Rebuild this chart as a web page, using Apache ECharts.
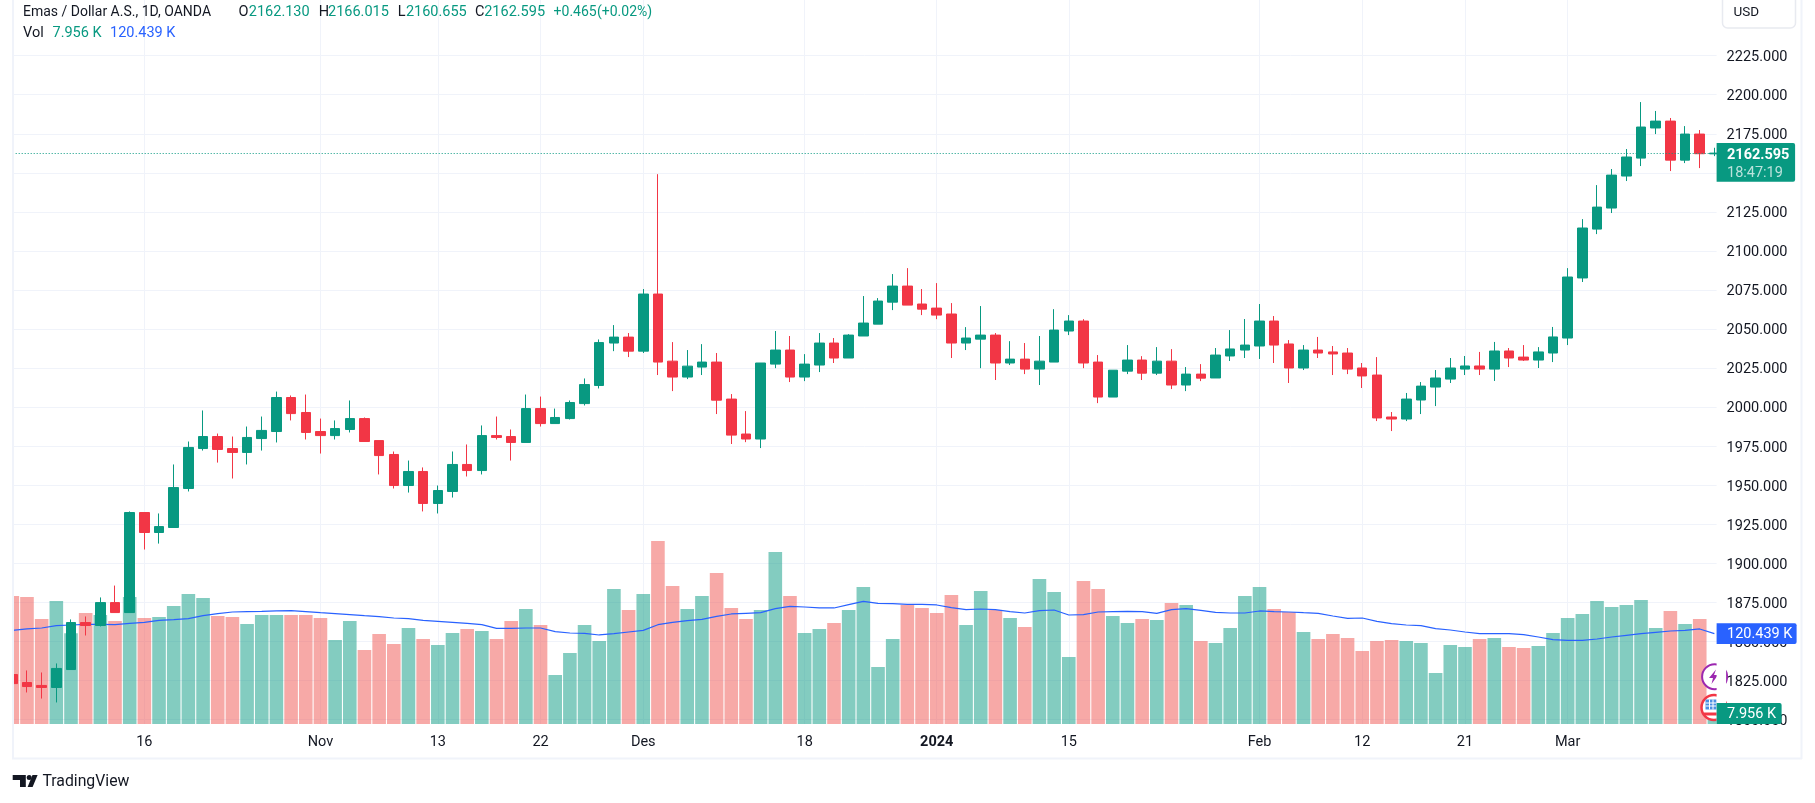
<!DOCTYPE html>
<html>
<head>
<meta charset="utf-8">
<title>Emas / Dollar A.S.</title>
<script src="https://cdn.jsdelivr.net/npm/echarts@6/dist/echarts.min.js"></script>
<style>
html,body{margin:0;padding:0;background:#fff;}
#chart{position:absolute;left:0;top:0;width:1815px;height:803px;}
</style>
</head>
<body>
<div id="chart"></div>
<script>
const opens = [1828.5,1823.4,1821.5,1820.2,1831.7,1861.8,1859.9,1874.6,1868.2,1932.3,1919.5,1922.7,1947.7,1973.3,1981.0,1973.3,1970.8,1979.7,1984.2,2006.0,1996.4,1984.2,1981.6,1985.5,1992.5,1978.4,1969.5,1949.6,1958.6,1938.1,1945.8,1963.1,1959.2,1981.6,1981.0,1977.2,1998.9,1989.3,1992.5,2002.1,2013.7,2040.9,2044.7,2035.7,2072.3,2029.3,2019.1,2025.5,2028.7,2005.0,1982.6,1979.4,2027.4,2036.4,2019.1,2026.8,2040.9,2031.3,2045.4,2053.0,2067.1,2077.4,2065.9,2063.3,2059.5,2040.9,2043.4,2046.0,2028.1,2030.6,2024.2,2028.7,2048.6,2055.0,2028.7,2006.3,2022.9,2030.0,2021.6,2029.3,2014.0,2021.0,2018.5,2032.6,2036.4,2039.0,2055.0,2040.3,2024.9,2036.4,2035.2,2034.5,2024.9,2020.4,1993.5,1992.2,2004.4,2012.7,2017.8,2024.2,2026.2,2024.2,2035.8,2031.9,2030.0,2034.5,2044.1,2082.6,2113.9,2127.4,2147.9,2159.4,2178.7,2183.1,2158.1,2174.8,2162.13];
const closes = [1822.7,1820.8,1820.2,1832.4,1861.8,1859.9,1874.6,1868.2,1932.3,1919.5,1923.3,1948.3,1974.0,1981.0,1972.7,1970.8,1980.4,1984.9,2006.0,1995.7,1983.6,1981.6,1986.1,1992.5,1977.8,1968.8,1949.6,1958.6,1938.1,1946.4,1963.1,1959.2,1981.6,1980.4,1977.2,1998.9,1989.3,1993.2,2002.8,2014.3,2041.2,2044.7,2035.7,2072.3,2028.7,2019.1,2026.1,2028.7,2004.3,1981.9,1979.4,2028.1,2036.4,2019.1,2027.4,2040.9,2031.3,2046.0,2053.7,2067.8,2077.4,2065.2,2062.6,2058.8,2040.9,2044.1,2046.0,2028.1,2030.6,2024.2,2029.3,2049.2,2055.0,2028.1,2006.3,2023.5,2030.0,2021.6,2029.3,2014.0,2021.0,2018.4,2033.2,2037.1,2039.6,2055.0,2039.6,2024.9,2036.4,2034.5,2033.9,2024.2,2019.8,1992.9,1992.2,2005.0,2013.3,2018.5,2024.9,2026.2,2024.2,2035.8,2031.3,2030.0,2035.2,2044.8,2083.2,2114.6,2128.0,2148.5,2160.1,2179.3,2183.1,2158.1,2174.8,2162.2,2162.595];
const lows = [1821.0,1817.0,1813.1,1810.6,1831.7,1853.5,1859.3,1868.2,1868.2,1908.6,1912.4,1922.7,1945.8,1972.0,1964.3,1954.1,1963.1,1972.0,1977.2,1991.3,1979.1,1970.1,1979.1,1983.6,1977.8,1956.7,1947.7,1945.1,1933.0,1931.7,1941.9,1955.4,1956.7,1979.1,1965.6,1977.2,1987.4,1989.3,1991.9,2000.9,2011.8,2035.7,2031.9,2034.5,2020.4,2010.1,2017.8,2020.4,1995.4,1976.2,1977.4,1973.6,2024.8,2015.9,2016.5,2022.3,2028.1,2031.3,2045.4,2053.0,2062.0,2065.2,2058.8,2056.2,2031.3,2036.4,2024.8,2017.2,2026.8,2021.0,2014.0,2028.7,2046.0,2024.8,2002.4,2006.3,2021.0,2017.2,2020.4,2011.4,2010.1,2016.5,2018.5,2029.4,2031.3,2030.7,2028.1,2015.3,2023.6,2031.3,2020.4,2021.0,2012.1,1990.9,1984.5,1990.9,1995.4,2000.5,2015.3,2020.4,2020.4,2016.6,2025.5,2029.4,2024.9,2028.7,2039.6,2080.0,2110.7,2124.2,2144.7,2154.3,2174.8,2151.1,2156.2,2153.0,2160.655];
const highs = [1830.0,1831.1,1829.8,1835.6,1863.8,1865.7,1877.9,1885.5,1933.0,1932.3,1931.7,1963.1,1977.8,1997.7,1982.9,1981.0,1987.4,1993.8,2009.8,2007.3,2007.9,1992.5,1991.3,2004.1,1993.2,1978.4,1971.4,1965.6,1961.2,1949.6,1971.4,1975.9,1988.1,1993.8,1985.5,2007.9,2006.6,1998.9,2004.1,2018.2,2043.2,2052.4,2047.3,2075.5,2149.1,2041.5,2036.4,2040.2,2034.5,2008.2,1997.3,2028.1,2048.6,2045.4,2033.8,2047.3,2044.1,2046.6,2071.0,2069.7,2085.1,2088.9,2075.5,2079.3,2066.5,2051.1,2064.6,2047.3,2042.1,2040.9,2045.4,2062.6,2058.8,2056.2,2033.2,2023.5,2039.6,2032.5,2038.3,2037.0,2025.5,2027.4,2037.7,2049.2,2056.3,2065.9,2058.2,2042.8,2039.6,2044.8,2039.0,2037.7,2028.1,2031.9,1996.7,2008.9,2015.9,2023.6,2031.3,2032.6,2035.2,2041.6,2037.7,2039.6,2038.3,2051.2,2088.9,2120.3,2142.1,2152.4,2165.2,2195.3,2189.6,2185.1,2179.9,2177.4,2166.015];
const volumes = [170.7,169.3,140,164,120.9,148,145.3,137.3,169.3,141.3,142.7,157.3,173.3,168,144,142.7,133.3,145.3,145.3,145.3,145.3,141.3,112,137.3,98.7,120,106.7,128,113.3,105.3,121.3,126.7,124,113.3,137.3,153.3,132,65.3,94.7,132,110.7,180,152,173.3,244,184,153.3,170.7,201.3,154.7,140,152,229.3,170.7,121.3,126.7,134.7,152,182.7,76,113.3,158.7,154.7,148,172,132,177.3,152,141.3,129.3,193.3,176,89.3,190.7,180,144,134.7,140,138.7,161.3,158.7,110.7,108,128,170.7,182.7,153.3,149.3,122.7,113.3,120,114.7,97.3,110.7,112,110.7,108,68,105.3,102.7,113.3,114.7,102.7,101.3,104,121.3,141.3,146.7,164,156,158.7,165.3,128,150.7,133.3,140,7.956];
const volumeMA = [124.9,126.7,128,131.1,132,132.9,132.9,132.4,134.2,135.6,138.2,139.1,140.4,144.4,147.1,149.3,149.8,150.2,150.7,151.1,149.8,148.4,147.1,145.8,144.4,143.1,141.3,140.4,138.2,136.9,135.6,134.2,132.4,127.6,127.6,128,128,123.1,121.3,120.9,118.7,120.4,122.7,124.9,132.4,135.6,137.8,139.6,143.6,146.7,147.6,148.4,153.8,156.9,156,154.7,154.7,159.1,163.6,160.9,160.4,159.6,159.6,158.7,155.1,152.4,153.3,152.4,149.8,148,151.1,152,145.3,145.8,149.3,149.8,150.2,149.8,147.6,152.4,153.8,151.6,148.9,148,148,150.7,149.8,149.3,148.4,147.6,144,140.9,141.3,136.9,133.8,132,131.1,127.1,125.3,122.7,120.4,120.4,120.4,119.1,116,112.4,111.6,111.6,113.3,116,118.2,120.4,122.2,124,124.9,126.7,120.439];
const timeTickIndexes = [9,21,29,36,43,54,63,72,85,92,99,106];
const timeTickLabels = ['16','Nov','13','22','Des','18','2024','15','Feb','12','21','Mar'];
const priceTicks = [1800,1825,1850,1875,1900,1925,1950,1975,2000,2025,2050,2075,2100,2125,2150,2175,2200,2225];
const lastPrice = 2162.595;

const GREEN = '#089981', RED = '#F23645', BLUE = '#2962FF', INK = '#131722', GRID = '#f0f3fa', FONT = 'Roboto, sans-serif';
const idx = opens.map((_, i) => i);
const txt = (x, y, text, fill, extra) => ({type:'text', z:30, x, y, style:Object.assign({text, fill, font:'14.5px '+FONT, textVerticalAlign:'middle'}, extra||{})});
const rect = (x, y, w, h, fill, z, r) => ({type:'rect', z:z||30, shape:{x, y, width:w, height:h, r:r||0}, style:{fill}});
const silent = o => Object.assign(o,{silent:true});

const chart = echarts.init(document.getElementById('chart'), null, {renderer:'canvas'});
chart.setOption({
  animation:false,
  backgroundColor:'#ffffff',
  grid:{left:12.7, top:0, width:1703.9, height:724, containLabel:false},
  xAxis:{
    type:'value', min:0.027, max:116.15, scale:true,
    axisLine:{show:false},
    axisTick:{show:false, customValues:timeTickIndexes},
    splitLine:{show:true, lineStyle:{color:GRID, width:1}},
    axisLabel:{
      customValues:timeTickIndexes, margin:11, color:INK,
      fontFamily:FONT, fontSize:14.5,
      formatter:v => { const s = timeTickLabels[timeTickIndexes.indexOf(v)]; return s==='2024' ? '{b|2024}' : s; },
      rich:{b:{fontWeight:'bold', fontFamily:FONT, fontSize:14.5, color:INK}}
    }
  },
  yAxis:[
    {
      type:'value', position:'right', min:1796.8, max:2260.7, scale:true,
      axisLine:{show:false},
      axisTick:{show:false, customValues:priceTicks},
      splitLine:{show:true, lineStyle:{color:GRID, width:1}},
      axisLabel:{customValues:priceTicks, margin:10, verticalAlign:'top', lineHeight:4, color:INK, fontFamily:FONT, fontSize:14.5, formatter:v=>v.toFixed(3)}
    },
    {type:'value', position:'right', min:0, max:965.3, show:false, splitLine:{show:false}}
  ],
  series:[
    {
      name:'Vol', type:'bar', yAxisIndex:1, barWidth:13.6, z:1, silent:true,
      data:idx.map(i => ({value:[i, volumes[i]], itemStyle:{color: closes[i] >= opens[i] ? 'rgba(8,153,129,0.5)' : 'rgba(239,83,80,0.5)'}}))
    },
    {
      name:'Vol MA', type:'line', yAxisIndex:1, z:2, silent:true, showSymbol:false, symbol:'none',
      lineStyle:{color:BLUE, width:1.2},
      data:idx.map(i => [i, volumeMA[i]])
    },
    {
      name:'Emas / Dollar A.S.', type:'candlestick', yAxisIndex:0, z:3, silent:true, barWidth:10,
      itemStyle:{color:GREEN, color0:RED, borderColor:GREEN, borderColor0:RED, borderWidth:1},
      data:idx.map(i => [i, opens[i], closes[i], lows[i], highs[i]]),
      markLine:{
        silent:true, symbol:'none', animation:false, label:{show:false},
        lineStyle:{color:GREEN, type:[1,2], width:1, opacity:1},
        data:[{yAxis:lastPrice}]
      }
    }
  ],
  graphic:[
    // mask for the half candle and half bar that fall left of the pane, then the frame
    silent(rect(0,0,12,726,'#ffffff',8)),
    silent(rect(12,0,2,758,GRID,9)),
    silent(rect(12,757.5,1790,2,GRID,9)),
    silent(rect(1800.5,0,2,759,GRID,9)),
    // USD button
    {type:'rect', z:5, silent:true, shape:{x:1722.5,y:-6,width:73,height:34,r:5}, style:{fill:'#fff', stroke:'#e8eaf0', lineWidth:1.5}},
    silent(txt(1733.5,13,'USD',INK,{font:'13.5px '+FONT})),
    // legend row 1
    silent(txt(23,12,'Emas / Dollar A.S., 1D, OANDA',INK,{font:'14px '+FONT})),
    silent(txt(238.4,12,'O',INK)), silent(txt(248.8,12,'2162.130',GREEN)),
    silent(txt(318.7,12,'H',INK)), silent(txt(328,12,'2166.015',GREEN)),
    silent(txt(397.8,12,'L',INK)), silent(txt(405.9,12,'2160.655',GREEN)),
    silent(txt(475,12,'C',INK)),   silent(txt(484.2,12,'2162.595',GREEN)),
    silent(txt(553.6,12,'+0.465',GREEN,{font:'14px '+FONT})), silent(txt(597,12,'(+0.02%)',GREEN,{font:'14px '+FONT})),
    // legend row 2
    silent(txt(23,33,'Vol',INK)),
    silent(txt(52.5,33,'7.956 K',GREEN)),
    silent(txt(110,33,'120.439 K',BLUE)),
    // event badges at the right edge of the pane
    {type:'circle', z:10, silent:true, shape:{cx:1714.6,cy:676.7,r:12.5}, style:{fill:'#fff', stroke:'#9C27B0', lineWidth:2}},
    {type:'polygon', z:11, silent:true, shape:{points:[[1716,669.5],[1709,678],[1713,678],[1711.5,684],[1718,675],[1714,675]]}, style:{fill:'#9C27B0'}},
    {type:'circle', z:10, silent:true, shape:{cx:1714,cy:707.5,r:12.5}, style:{fill:'#fff', stroke:'#F23645', lineWidth:2.5}},
    silent(rect(1705.5,699.5,11,10,'#4A90E2',11)),
    silent(rect(1705.5,702.5,11,1,'#ffffff',11)),
    silent(rect(1705.5,705.5,11,1,'#ffffff',11)),
    silent(rect(1709,699.5,1,10,'#ffffff',11)),
    silent(rect(1712.5,699.5,1,10,'#ffffff',11)),
    silent(rect(1704,712.5,13,3,'#F23645',11)),
    silent(rect(1716.6,660,9.5,70,'#ffffff',12)),
    // price scale labels
    silent(rect(1716.6,143,78.5,38.7,GREEN,25,[0,2,2,0])),
    silent(txt(1727,155,'2162.595','#ffffff',{font:'bold 14.5px '+FONT})),
    silent(txt(1727,173,'18:47:19','rgba(255,255,255,0.72)')),
    silent(rect(1716.6,623.3,80,20.7,BLUE,25,[0,2,2,0])),
    silent(txt(1727,634.5,'120.439 K','#ffffff')),
    silent(rect(1716.6,703,65,21,GREEN,25,[0,2,2,0])),
    silent(txt(1727,714.5,'7.956 K','#ffffff')),
    // TradingView mark
    {type:'polygon', z:5, silent:true, shape:{points:[[12.7,775],[25.8,775],[25.8,787],[20,787],[20,780],[12.7,780]]}, style:{fill:INK}},
    {type:'circle', z:5, silent:true, shape:{cx:29.2,cy:777.5,r:2.5}, style:{fill:INK}},
    {type:'polygon', z:5, silent:true, shape:{points:[[32.5,775],[37.6,775],[32.6,787],[27.6,787]]}, style:{fill:INK}},
    silent(txt(42.4,782,'TradingView',INK,{font:'15.8px '+FONT}))
  ]
});
</script>
</body>
</html>
